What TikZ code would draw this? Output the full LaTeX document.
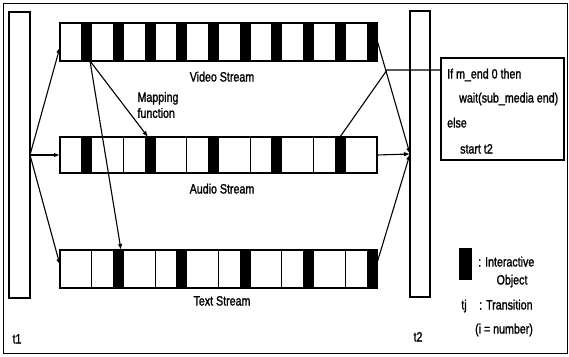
\documentclass[tikz,border=0pt]{standalone}
\usepackage{fontspec}
\setmainfont[FakeStretch=0.79,FakeBold=1.4]{Liberation Sans}
\usetikzlibrary{arrows.meta,calc}
\tikzset{
  lbl/.style={inner sep=0pt,font=\fontsize{13.5}{16}\selectfont,text height=9.5pt,text depth=2.5pt},
  bar/.style={draw,line width=1.3pt,outer sep=0pt,minimum width=21pt,minimum height=286pt,inner sep=0pt},
  stream/.style={draw,line width=1.8pt,outer sep=0pt,minimum width=317pt,inner sep=0pt},
  conn/.style={line width=1.1pt,-{Latex[length=6pt,width=4.5pt]}},
  plain/.style={line width=1.1pt},
}
\begin{document}
\begin{tikzpicture}[x=1pt,y=-1pt]
\useasboundingbox (0,0) rectangle (569,356);
% outer frame
\draw[line width=1pt] (3,3) rectangle (567,353);
% transition bars
\node[bar] (t1) at (19.5,155) {};
\node[bar,minimum width=20pt] (t2) at (420,154) {};
% streams
\node[stream,minimum height=38pt] (video) at (218.5,42) {};
\node[stream,minimum height=36pt] (audio) at (218.5,155) {};
\node[stream,minimum height=38pt] (text) at (218.5,269) {};
\foreach \s/\blk in {video/{1,2,3,4,5,6,7,8,9,10},audio/{1,3,5,7,9},text/{2,4,6,8,10}}{
  \foreach \i in {1,...,9}
    \draw[line width=1pt] ($(\s.south west)+(\i*31.7,0)$) -- ($(\s.north west)+(\i*31.7,0)$);
  \foreach \i in \blk
    \fill ($(\s.south west)+(\i*31.7-10.5,0)$) rectangle ($(\s.north west)+(\i*31.7,0)$);
}
% stream labels
\node[lbl] (vlab) at (222,78) {Video Stream};
\node[lbl] (alab) at (222,190) {Audio Stream};
\node[lbl] (tlab) at (222,302) {Text Stream};
\node[lbl,align=left,text height=,text depth=] (maplab) at (158,105) {Mapping\\function};
% condition box
\node[draw,line width=1.3pt,minimum width=123pt,minimum height=102pt,outer sep=0pt] (cond) at (502.5,109) {};
\node[lbl,anchor=west] (c1) at (447,75) {If m\_end 0 then};
\node[lbl,anchor=west] (c2) at (459,99) {wait(sub\_media end)};
\node[lbl,anchor=west] (c3) at (447,124) {else};
\node[lbl,anchor=west] (c4) at (460,150) {start t2};
% connectors from t1
\draw[conn] (t1.east) -- ($(video.west)+(0,5)$);
\draw[conn] (t1.east) -- (audio.west);
\draw[conn] (t1.east) -- ($(text.west)+(0,-4)$);
% mapping function
\coordinate (vsrc) at ($(video.south west)+(30,0)$);
\draw[conn] (vsrc) -- ($(audio.north west)+(88,0)$);
\draw[conn] (vsrc) -- ($(text.north west)+(61,0)$);
% connectors to t2
\draw[conn] ($(video.east)+(0,-2)$) -- (t2.west);
\draw[conn] (audio.east) -- (t2.west);
\draw[conn] ($(text.east)+(0,-6)$) -- (t2.west);
% link to condition box
\coordinate (asrc) at ($(audio.north west)+(280,0)$);
\coordinate (bend) at (387,70);
\draw[plain] (asrc) -- (bend) -- ($(cond.north west)+(0,12)$);
% labels t1, t2
\node[lbl] (t1lab) at (17,340) {t1};
\node[lbl] (t2lab) at (418,338) {t2};
% legend
\node[fill=black,minimum width=13pt,minimum height=32pt,inner sep=0pt] (legbox) at (465.5,264) {};
\node[lbl,anchor=west] (leg1) at (478,263) {: Interactive};
\node[lbl] (leg2) at (512,281) {Object};
\node[lbl] (leg3) at (464,306) {tj};
\node[lbl,anchor=west] (leg4) at (479,306) {: Transition};
\node[lbl] (leg5) at (504,330) {(i = number)};
\end{tikzpicture}
\end{document}
